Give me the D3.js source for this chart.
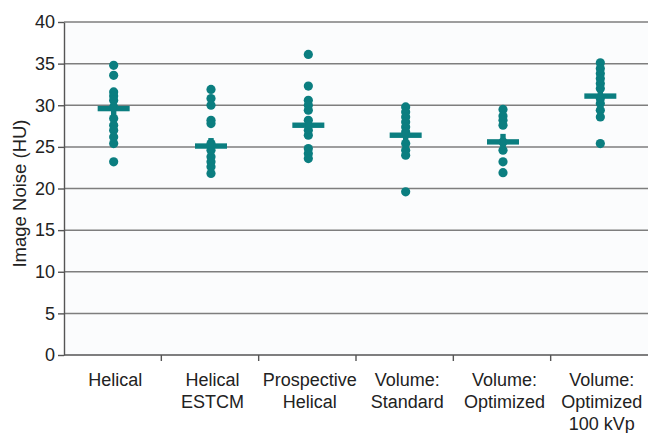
<!DOCTYPE html>
<html>
<head>
<meta charset="utf-8">
<script src="https://cdn.jsdelivr.net/npm/d3@7"></script>
<style>
body { margin: 0; background: #fff; }
text { font-family: "Liberation Sans", Arial, sans-serif; fill: #222; }
</style>
</head>
<body>
<script>
var w = 648;
var h = 433;
var margin = {left: 64, right: 0, top: 22, bottom: 78};

var categories = [
  ["Helical"],
  ["Helical", "ESTCM"],
  ["Prospective", "Helical"],
  ["Volume:", "Standard"],
  ["Volume:", "Optimized"],
  ["Volume:", "Optimized", "100 kVp"]
];

// individual noise values per protocol
var helical = [34.8, 33.6, 31.6, 31.1, 30.6, 29.8, 28.4, 27.6, 27.0, 26.2, 25.4, 23.2];
var helicalEstcm = [31.9, 30.8, 30.0, 28.2, 27.8, 25.4, 24.6, 23.8, 23.2, 22.6, 21.8];
var prospective = [36.1, 32.3, 30.6, 30.0, 29.4, 28.2, 27.0, 26.4, 24.8, 24.2, 23.6];
var volStandard = [29.8, 29.2, 28.6, 28.0, 27.4, 26.8, 25.4, 24.6, 24.0, 19.6];
var volOptimized = [29.5, 28.7, 28.2, 27.6, 25.6, 24.6, 23.2, 21.9];
var vol100 = [35.1, 34.4, 33.8, 33.2, 32.6, 32.0, 30.8, 30.2, 29.4, 28.6, 25.4];

var means = [29.6, 25.1, 27.6, 26.4, 25.6, 31.1];
var yTicks = [0, 5, 10, 15, 20, 25, 30, 35, 40];

var series = [helical, helicalEstcm, prospective, volStandard, volOptimized, vol100];
var teal = "#0b7e80";

var xScale = d3.scaleBand()
  .domain(d3.range(categories.length))
  .range([margin.left, w - margin.right]);

var yScale = d3.scaleLinear()
  .domain([0, 40])
  .range([h - margin.bottom, margin.top]);

var svg = d3.select("body")
  .append("svg")
  .attr("width", w)
  .attr("height", h);

svg.append("rect")
  .attr("x", margin.left).attr("y", margin.top)
  .attr("width", w - margin.left).attr("height", h - margin.bottom - margin.top)
  .attr("fill", "#fbfcfd");

//grid lines
svg.append("g")
  .selectAll("line")
  .data(yTicks.slice(1))
  .enter()
  .append("line")
  .attr("x1", margin.left)
  .attr("x2", w)
  .attr("y1", function(d) { return yScale(d); })
  .attr("y2", function(d) { return yScale(d); })
  .attr("stroke", "#7e7e7e")
  .attr("stroke-width", 1.5);

//Y axis
var yAxis = d3.axisLeft(yScale)
  .tickValues(yTicks)
  .tickSize(6)
  .tickPadding(3)
  .tickSizeOuter(0);

var gy = svg.append("g")
  .attr("transform", "translate(" + margin.left + ",0)")
  .call(yAxis);
gy.selectAll("text").style("font-size", "18px").attr("fill", "#222");
gy.selectAll("line, path").attr("stroke", "#555").attr("stroke-width", 1.4);

//X axis
var gx = svg.append("g")
  .attr("transform", "translate(0," + yScale(0) + ")");
gx.append("line")
  .attr("x1", margin.left).attr("x2", w)
  .attr("stroke", "#555").attr("stroke-width", 1.4);
gx.selectAll(".sep")
  .data(d3.range(1, categories.length))
  .enter()
  .append("line")
  .attr("x1", function(d) { return xScale(d); })
  .attr("x2", function(d) { return xScale(d); })
  .attr("y1", 0).attr("y2", 6)
  .attr("stroke", "#555").attr("stroke-width", 1.4);

var labels = gx.selectAll(".lab")
  .data(categories)
  .enter()
  .append("text")
  .attr("text-anchor", "middle")
  .style("font-size", "18px")
  .attr("transform", function(d, i) {
    return "translate(" + (xScale(i) + xScale.bandwidth() / 2 + 2.5) + ",31)";
  });
labels.selectAll("tspan")
  .data(function(d) { return d; })
  .enter()
  .append("tspan")
  .attr("x", 0)
  .attr("y", function(d, j) { return j * 22; })
  .text(function(d) { return d; });

svg.append("text")
  .attr("transform", "translate(26," + ((yScale(0) + yScale(40)) / 2 + 5) + ") rotate(-90)")
  .attr("text-anchor", "middle")
  .style("font-size", "18.5px")
  .text("Image Noise (HU)");

//dots
series.forEach(function(vals, i) {
  var cx = xScale(i) + xScale.bandwidth() / 2 + 1;
  svg.append("g")
    .selectAll("circle")
    .data(vals)
    .enter()
    .append("circle")
    .attr("cx", cx)
    .attr("cy", function(d) { return yScale(d); })
    .attr("r", 4.6)
    .attr("fill", teal);
});

//mean markers
var m = svg.append("g")
  .selectAll("g")
  .data(means)
  .enter()
  .append("g")
  .attr("transform", function(d, i) {
    return "translate(" + (xScale(i) + xScale.bandwidth() / 2 + 1) + "," + yScale(d) + ")";
  });
m.append("rect")
  .attr("x", -16).attr("y", -2.7)
  .attr("width", 32).attr("height", 5.4)
  .attr("fill", teal);
m.append("rect")
  .attr("x", -2.7).attr("y", -8)
  .attr("width", 5.4).attr("height", 16)
  .attr("fill", teal);
</script>
</body>
</html>
